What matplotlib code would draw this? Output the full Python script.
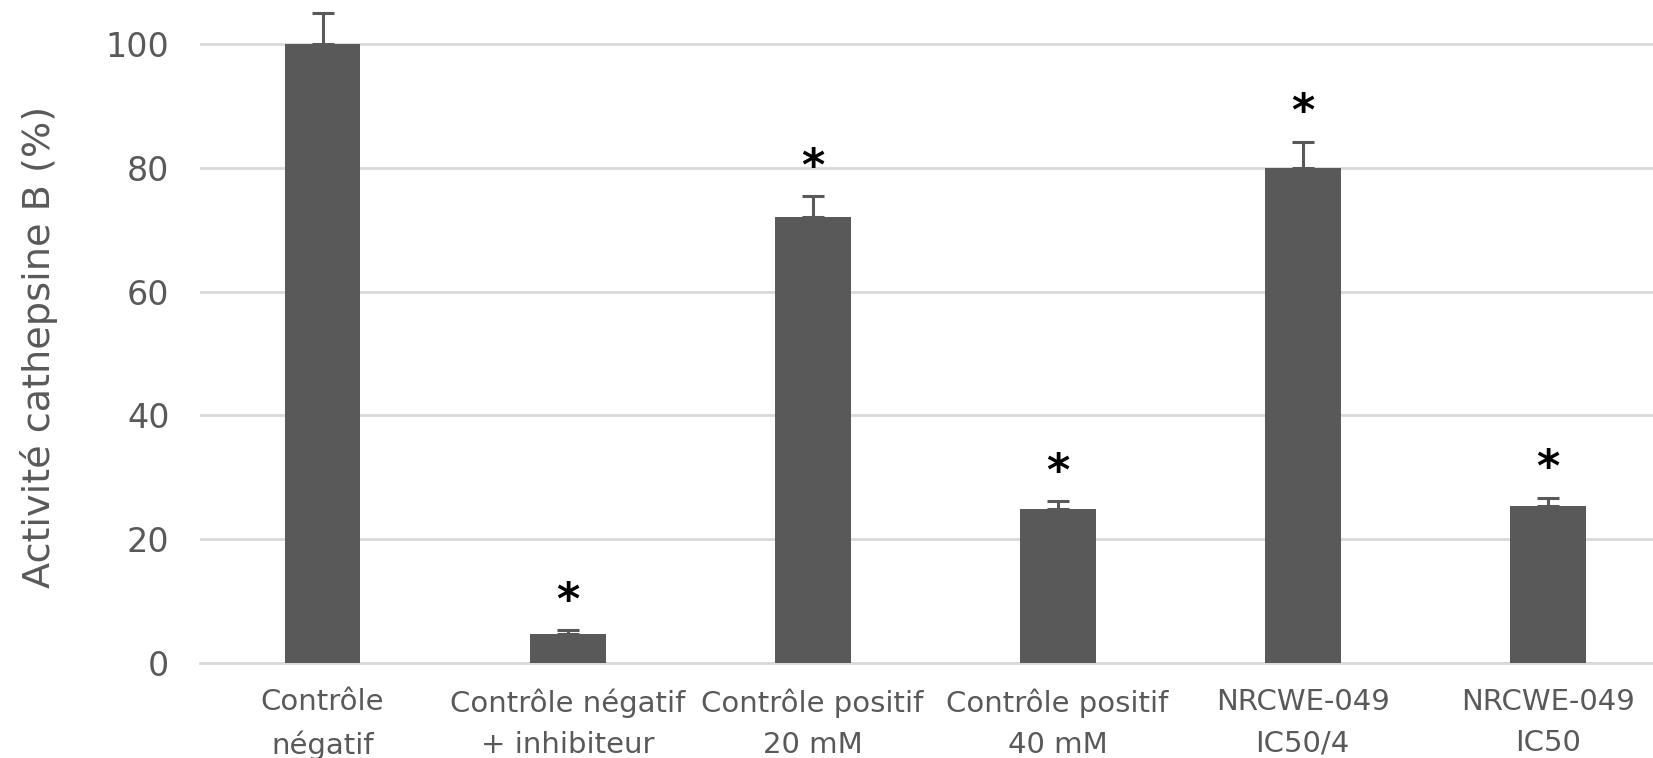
import matplotlib
matplotlib.use("Agg")
import matplotlib.pyplot as plt

# cathepsin B activity per treatment, % of negative control
labels = ["Contrôle\nnégatif", "Contrôle négatif\n+ inhibiteur",
          "Contrôle positif\n20 mM", "Contrôle positif\n40 mM",
          "NRCWE-049\nIC50/4", "NRCWE-049\nIC50"]
activity = [100.0, 4.7, 72.0, 24.9, 80.0, 25.4]
sem = [5.0, 0.6, 3.4, 1.2, 4.2, 1.3]
significant = [False, True, True, True, True, True]

gray = "#595959"
grid_gray = "#d9d9d9"

fig = plt.figure(figsize=(16.53, 7.58), dpi=100)
ax = fig.add_axes([200 / 1653, 95 / 758, 1 - 200 / 1653, 663 / 758])

x = list(range(len(labels)))
ax.bar(x, activity, width=0.31, color=gray, zorder=3)
ax.errorbar(x, activity, yerr=[[0] * len(sem), sem], fmt="none",
            ecolor=gray, elinewidth=2.2, capsize=8, capthick=2.2, zorder=4)

# significance marks above the error bars
for xi, v, e, sig in zip(x, activity, sem, significant):
    if sig:
        ax.text(xi, v + e + 1.2, "*", ha="center", va="bottom",
                fontsize=32, fontweight="bold", color="black")

ax.set_xlim(-0.5, 5.43)
ax.set_ylim(0, 107.1)
ax.set_yticks(range(0, 101, 20))
ax.set_xticks(x)
ax.set_xticklabels(labels, fontsize=21, color=gray, linespacing=1.6)
ax.tick_params(axis="y", length=0, pad=22, labelsize=24, labelcolor=gray)
ax.tick_params(axis="x", length=0, pad=18)

ax.grid(axis="y", color=grid_gray, linewidth=2, zorder=0)
for side in ["top", "right", "left"]:
    ax.spines[side].set_visible(False)
ax.spines["bottom"].set_color(grid_gray)
ax.spines["bottom"].set_linewidth(2)

ax.set_ylabel("Activité cathepsine B (%)", fontsize=27.5, color=gray)
ax.yaxis.set_label_coords(-0.098, 0.477)

fig.savefig("out.png", dpi=100)
